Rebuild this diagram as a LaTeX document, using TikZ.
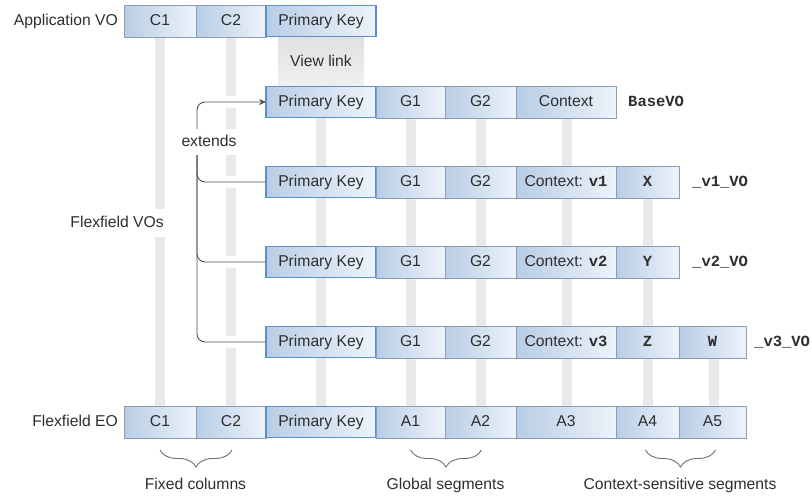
\documentclass[tikz,border=0pt]{standalone}
\usepackage{fontspec}
\setmainfont{Liberation Sans}
\setmonofont{Liberation Mono}
\usetikzlibrary{decorations.pathreplacing,backgrounds,calc,arrows.meta}
\definecolor{cellL}{HTML}{B8CDE6}
\definecolor{cellR}{HTML}{EDF3FA}
\definecolor{cellB}{HTML}{8A9DB3}
\definecolor{pkB}{HTML}{5A8FCA}
\definecolor{barG}{HTML}{E9E9E9}
\definecolor{txt}{HTML}{2E2E2E}
\definecolor{lineC}{HTML}{505050}
\definecolor{braceC}{HTML}{707070}
\newcommand\mono[1]{{\fontsize{15.5}{18}\selectfont\ttfamily\bfseries #1}}
\begin{document}
\begin{tikzpicture}[x=1pt,y=-1pt,
  font=\fontsize{15.7}{18}\selectfont,
  every node/.style={text=txt, text height=11.5pt, text depth=2.5pt},
  cell/.style={draw=cellB, line width=0.8pt, left color=cellL, right color=cellR,
    minimum height=32pt, inner sep=0pt, outer sep=0pt},
  pkcell/.style={cell, draw=pkB, line width=1.8pt, minimum height=31pt},
  bar/.style={fill=barG, draw=none},
  conn/.style={draw=lineC, line width=0.9pt, rounded corners=8pt},
  gapline/.style={draw=white, line width=12pt},
  brc/.style={decorate, decoration={brace, mirror, amplitude=17pt},
    draw=braceC, line width=0.9pt},
  side/.style={inner sep=0pt},
  viewlink/.style={top color=barG!80!gray!70!white, bottom color=barG!70!white,
    draw=none, inner sep=0pt}
]
\useasboundingbox (0,0) rectangle (812,498);

% ---------- Application VO
\node[cell, minimum width=72pt] (avC1) at (160,21) {C1};
\node[cell, minimum width=70pt] (avC2) at (231,21) {C2};
\node[pkcell, minimum width=110pt] (avPK) at (321,21) {Primary Key};
\node[side, anchor=east] (lav) at (118,21) {Application VO};

% ---------- View link
\node[viewlink, minimum width=86pt, minimum height=49pt] (vl) at (321,61.5) {View link};

% ---------- BaseVO
\node[pkcell, minimum width=110pt] (bPK) at (321,102) {Primary Key};
\node[cell, minimum width=69pt] (bG1) at (410.5,102) {G1};
\node[cell, minimum width=71pt] (bG2) at (480.5,102) {G2};
\node[cell, minimum width=100pt] (bCtx) at (566,102) {Context};
\node[side, anchor=west] (lb) at (628,102) {\mono{BaseVO}};

% ---------- v1
\node[pkcell, minimum width=110pt] (v1PK) at (321,182) {Primary Key};
\node[cell, minimum width=69pt] (v1G1) at (410.5,182) {G1};
\node[cell, minimum width=71pt] (v1G2) at (480.5,182) {G2};
\node[cell, minimum width=100pt] (v1Ctx) at (566,182) {Context: \mono{v1}};
\node[cell, minimum width=63pt] (v1X) at (647.5,182) {\mono{X}};
\node[side, anchor=west] (lv1) at (692,182) {\mono{\_v1\_VO}};

% ---------- v2
\node[pkcell, minimum width=110pt] (v2PK) at (321,262) {Primary Key};
\node[cell, minimum width=69pt] (v2G1) at (410.5,262) {G1};
\node[cell, minimum width=71pt] (v2G2) at (480.5,262) {G2};
\node[cell, minimum width=100pt] (v2Ctx) at (566,262) {Context: \mono{v2}};
\node[cell, minimum width=63pt] (v2Y) at (647.5,262) {\mono{Y}};
\node[side, anchor=west] (lv2) at (692,262) {\mono{\_v2\_VO}};

% ---------- v3
\node[pkcell, minimum width=110pt] (v3PK) at (321,342) {Primary Key};
\node[cell, minimum width=69pt] (v3G1) at (410.5,342) {G1};
\node[cell, minimum width=71pt] (v3G2) at (480.5,342) {G2};
\node[cell, minimum width=100pt] (v3Ctx) at (566,342) {Context: \mono{v3}};
\node[cell, minimum width=63pt] (v3Z) at (647.5,342) {\mono{Z}};
\node[cell, minimum width=67pt] (v3W) at (712.5,342) {\mono{W}};
\node[side, anchor=west] (lv3) at (754,342) {\mono{\_v3\_VO}};

% ---------- Flexfield EO
\node[cell, minimum width=72pt] (eoC1) at (160,422) {C1};
\node[cell, minimum width=70pt] (eoC2) at (231,422) {C2};
\node[pkcell, minimum width=110pt] (eoPK) at (321,422) {Primary Key};
\node[cell, minimum width=69pt] (eoA1) at (410.5,422) {A1};
\node[cell, minimum width=71pt] (eoA2) at (480.5,422) {A2};
\node[cell, minimum width=100pt] (eoA3) at (566,422) {A3};
\node[cell, minimum width=63pt] (eoA4) at (647.5,422) {A4};
\node[cell, minimum width=67pt] (eoA5) at (712.5,422) {A5};
\node[side, anchor=east] (leo) at (118,422) {Flexfield EO};

% ---------- labels with white background
\node[fill=white, inner xsep=1pt, inner ysep=7pt, anchor=east] (lvos) at (165,223) {Flexfield VOs};
\node[fill=white, inner xsep=2pt, inner ysep=6pt] (ext) at (209,142) {extends};
\coordinate (spine) at (197,0);

% ---------- background: bars and connectors
\begin{pgfonlayer}{background}
  \fill[bar] ($(avC1.south)+(-5,0)$) rectangle ($(eoC1.north)+(5,0)$);
  \fill[bar] ($(avC2.south)+(-5,0)$) rectangle ($(eoC2.north)+(5,0)$);
  \fill[bar] ($(bPK.south)+(-5,0)$) rectangle ($(eoPK.north)+(5,0)$);
  \fill[bar] ($(bG1.south)+(-5,0)$) rectangle ($(eoA1.north)+(5,0)$);
  \fill[bar] ($(bG2.south)+(-5,0)$) rectangle ($(eoA2.north)+(5,0)$);
  \fill[bar] ($(bCtx.south)+(-4,0)$) rectangle ($(eoA3.north)+(6,0)$);
  \fill[bar] ($(v1X.south)+(-5,0)$) rectangle ($(eoA4.north)+(5,0)$);
  \fill[bar] ($(v3W.south)+(-4,0)$) rectangle ($(eoA5.north)+(6,0)$);
  % white gaps where connectors cross the bars
  \draw[gapline] (spine |- bPK.west) -- (bPK.west);
  \draw[gapline] (spine |- v1PK.west) -- (v1PK.west);
  \draw[gapline] (spine |- v2PK.west) -- (v2PK.west);
  \draw[gapline] (spine |- v3PK.west) -- (v3PK.west);
  % connectors
  \draw[conn, -{Stealth[length=7pt,width=6pt]}] (ext.north -| spine) |- (bPK.west);
  \draw[conn] (ext.south -| spine) |- (v1PK.west);
  \draw[conn] (ext.south -| spine) |- (v2PK.west);
  \draw[conn] (ext.south -| spine) |- (v3PK.west);
\end{pgfonlayer}

% ---------- braces
\draw[brc] ($(eoC1.south)+(0,12)$) -- ($(eoC2.south)+(1,12)$);
\draw[brc] ($(eoA1.south)+(0,12)$) -- ($(eoA2.south)+(1,12)$);
\draw[brc] ($(eoA4.south)+(-2,12)$) -- ($(eoA5.south)+(3,12)$);
\node (bfix) at ($(eoC1.south)!0.5!(eoC2.south)+(0,47)$) {Fixed columns};
\node (bglob) at ($(eoA1.south)!0.5!(eoA2.south)+(0,47)$) {Global segments};
\node (bctx) at ($(eoA4.south)!0.5!(eoA5.south)+(0,47)$) {Context-sensitive segments};
\end{tikzpicture}
\end{document}
